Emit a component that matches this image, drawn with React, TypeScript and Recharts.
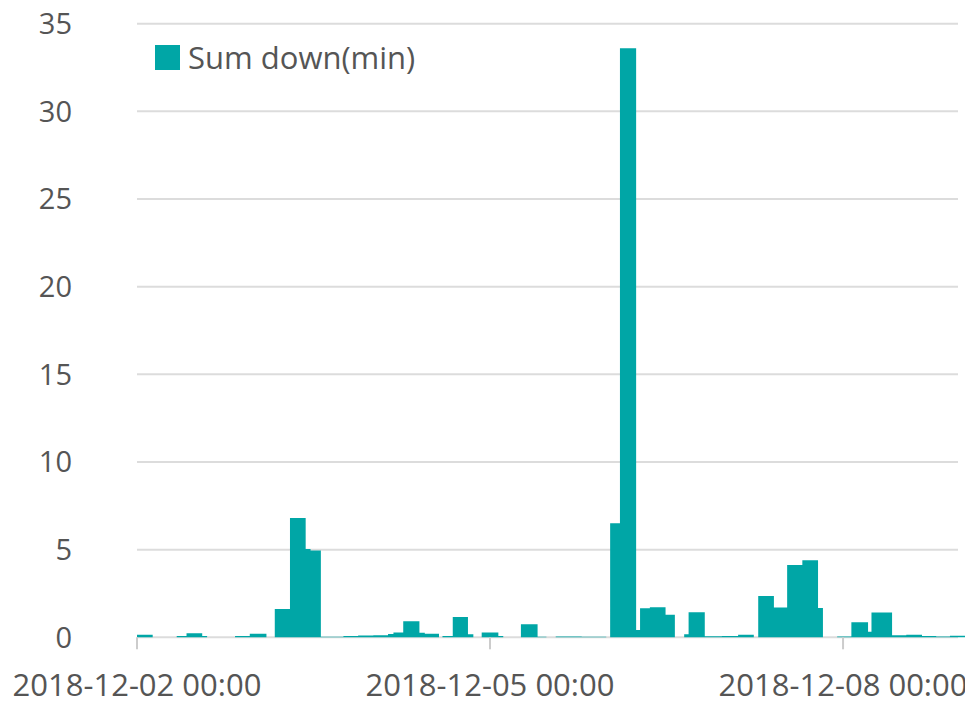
import { AreaChart, Area, XAxis, YAxis, CartesianGrid } from 'recharts';

// Step runs: start hour (offset from 2018-12-02 00:00) and down minutes for that run.
const hours = [
  0, 3.2, 8.1, 10.1, 13.3, 14.3, 20.0, 23.0, 26.4, 28.1, 31.2, 34.4, 35.4, 37.5, 42.1, 45.1,
  48.2, 51.2, 52.3, 54.3, 57.6, 58.7, 61.6, 62.3, 64.4, 67.5, 68.6, 70.3, 73.7, 74.7, 78.3,
  81.7, 83.5, 85.4, 90.7, 95.7, 96.5, 98.5, 101.8, 102.6, 104.6, 107.8, 109.7, 111.6, 112.5,
  115.8, 119.3, 122.6, 125.8, 126.7, 129.9, 132.6, 135.7, 138.9, 139.9, 142.8, 145.7, 149.1,
  149.8, 154.0, 156.9, 160.1, 163.0, 165.8, 169.2,
];
const downMin = [
  0.15, 0, 0.08, 0.23, 0.08, 0, 0.08, 0.2, 0, 1.62, 6.8, 5.03, 4.95, 0.03, 0.08, 0.1,
  0.11, 0.19, 0.27, 0.91, 0.26, 0.2, 0, 0.07, 1.16, 0.17, 0, 0.28, 0.07, 0, 0.74,
  0.03, 0, 0.05, 0.03, 0, 6.5, 33.6, 0.42, 1.65, 1.71, 1.29, 0, 0.17, 1.43,
  0.06, 0.08, 0.14, 0, 2.35, 1.7, 4.13, 4.4, 1.67, 0, 0.04, 0.86, 0.32,
  1.41, 0.11, 0.15, 0.07, 0.05, 0.09, 0.09,
];
const xTicks = [0, 72, 144];
const xTickLabels = ['2018-12-02 00:00', '2018-12-05 00:00', '2018-12-08 00:00'];
const yTicks = [0, 5, 10, 15, 20, 25, 30, 35];
const seriesName = 'Sum down(min)';

const data = hours.map((h, i) => ({ h, v: downMin[i] }));

const TEAL = '#00a6a6';
const FONT = '"Open Sans", "Noto Sans", sans-serif';

export default function App() {
  return (
    <div style={{ position: 'relative', width: 965, height: 704, marginTop: -8, fontFamily: FONT }}>
      <AreaChart width={965} height={704} data={data} margin={{ top: 23.7, right: 6.4, bottom: 6.7, left: 0 }}>
        <CartesianGrid vertical={false} stroke="#dcdcdc" strokeWidth={2} x={129} width={821} />
        <XAxis
          dataKey="h"
          type="number"
          domain={[0, 169.2]}
          ticks={xTicks}
          interval={0}
          tickFormatter={(v: number) => xTickLabels[xTicks.indexOf(v)]}
          axisLine={false}
          tickSize={12}
          tickMargin={25}
          tickLine={{ stroke: '#cccccc', strokeWidth: 2 }}
          tick={{ fontSize: 31, fill: '#555555', fontFamily: FONT }}
          height={60}
        />
        <YAxis
          domain={[0, 35]}
          ticks={yTicks}
          interval={0}
          axisLine={false}
          tickLine={false}
          tickSize={0}
          tickMargin={65}
          width={129}
          tick={{ fontSize: 29, fill: '#555555', fontFamily: FONT }}
        />
        <Area
          type="stepAfter"
          dataKey="v"
          name={seriesName}
          stroke="none"
          fill={TEAL}
          fillOpacity={1}
          legendType="square"
          isAnimationActive={false}
        />
      </AreaChart>
      <div style={{ position: 'absolute', left: 147, top: 36, display: 'flex', alignItems: 'center', color: '#555555', fontSize: 31 }}>
        <span style={{ display: 'inline-block', width: 25, height: 25, background: TEAL, marginRight: 8 }} />
        <span>{seriesName}</span>
      </div>
    </div>
  );
}
